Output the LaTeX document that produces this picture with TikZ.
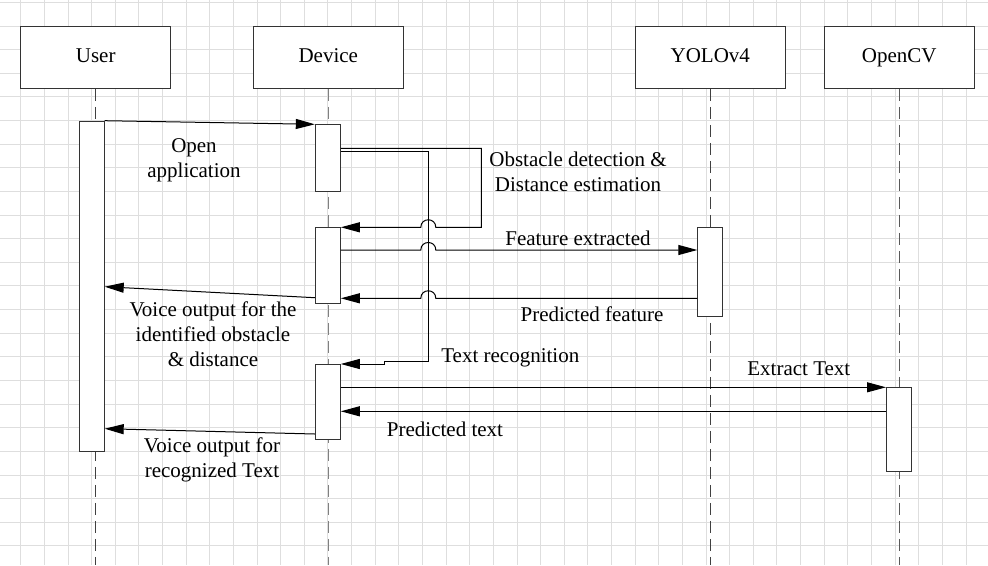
\documentclass[tikz,border=0pt]{standalone}
\usepackage{fontspec}
\setmainfont{LiberationSerif}[Extension=.ttf,UprightFont=*-Regular,BoldFont=*-Bold]
\usetikzlibrary{arrows.meta}

\begin{document}
\begin{tikzpicture}[x=1pt,y=-1pt,
    every node/.style={font=\fontsize{21}{25}\selectfont},
    actor/.style={draw=black!80,fill=white,line width=1pt,minimum width=150pt,minimum height=61.7pt,inner sep=0pt,text height=14.5pt,text depth=4.5pt},
    bar/.style={draw=black!80,fill=white,line width=1pt,minimum width=25pt,inner sep=0pt,anchor=north},
    life/.style={black!75,line width=1pt,dash pattern=on 12pt off 6pt},
    msg/.style={line width=1pt,-{Triangle[length=19pt,width=10pt]}},
    lbl/.style={align=center,inner sep=0pt}]
   \useasboundingbox (0,0) rectangle (988,565);

   \begin{scope}
    \clip (0,0) rectangle (988,565);
    \foreach \i in {0,...,41} \draw[black!13,line width=0.8pt] ({20.7+23.63*(\i-1)},0) -- ++(0,565);
    \foreach \j in {0,...,23} \draw[black!13,line width=0.8pt] (0,{2.3+23.63*\j}) -- ++(988,0);
   \end{scope}

   \node[actor] (user) at (95.7,57.5) {User};
   \node[actor] (dev) at (328.3,57.5) {Device};
   \node[actor] (yolo) at (710.3,57.5) {YOLOv4};
   \node[actor] (ocv) at (899.3,57.5) {OpenCV};

   \draw[life] (user.south) -- (user.south |- 0,565);
   \draw[life,black!50] (dev.south) -- (dev.south |- 0,565);
   \draw[life] (yolo.south) -- (yolo.south |- 0,565);
   \draw[life,black!65] (ocv.south) -- (ocv.south |- 0,565);

   \node[bar,minimum height=330pt] (u1) at (91.7,120.7) {};
   \node[bar,minimum height=66.7pt] (d1) at (327.8,124.3) {};
   \node[bar,minimum height=75.7pt] (d2) at (327.8,227.3) {};
   \node[bar,minimum height=75.3pt] (d3) at (327.8,364) {};
   \node[bar,minimum height=88.4pt] (y1) at (710.3,227.3) {};
   \node[bar,minimum height=84pt] (o1) at (899,387.3) {};

   % messages
   \draw[msg] (u1.north east) -- (d1.north west);
   \draw[msg] (d1.east |- 0,148.3) -- (481.3,148.3) -- (481.3,227.3) -- (435.8,227.3)
      .. controls (435.8,217.3) and (420.8,217.3) .. (420.8,227.3) -- (d2.north east);
   \draw[msg] (d1.east |- 0,151.7) -- (428.3,151.7) -- (428.3,361.7) -- (384.3,361.7)
      -- (384.3,364) -- (d3.north east);
   \draw[msg] (d2.east |- 0,250) -- (420.8,250)
      .. controls (420.8,240) and (435.8,240) .. (435.8,250) -- (y1.west |- 0,250);
   \draw[msg] (y1.west |- 0,298.3) -- (435.8,298.3)
      .. controls (435.8,288.3) and (420.8,288.3) .. (420.8,298.3) -- (d2.east |- 0,298.3);
   \draw[msg] (d2.west |- 0,297.7) -- (u1.east |- 0,286.7);
   \draw[msg] (d3.east |- 0,387.3) -- (o1.north west);
   \draw[msg] (o1.west |- 0,411.3) -- (d3.east |- 0,411.3);
   \draw[msg] (d3.west |- 0,434) -- (u1.east |- 0,428.7);

   \node[lbl] (lopen) at (194,160.5) {Open\\application};
   \node[lbl] (lobst) at (578,171.5) {Obstacle detection \&\\Distance estimation};
   \node[lbl] (lfeat) at (578,238) {Feature extracted};
   \node[lbl] (lpred) at (592,314) {Predicted feature};
   \node[lbl] (lvoice) at (213,334.3) {Voice output for the\\identified obstacle\\\& distance};
   \node[lbl] (ltrec) at (510.3,357.5) {Text recognition};
   \node[lbl] (lext) at (798.8,368.3) {Extract Text};
   \node[lbl] (lptext) at (445,429) {Predicted text};
   \node[lbl] (lvtext) at (212,460) {Voice output for\\recognized Text};
  \end{tikzpicture}
\end{document}
